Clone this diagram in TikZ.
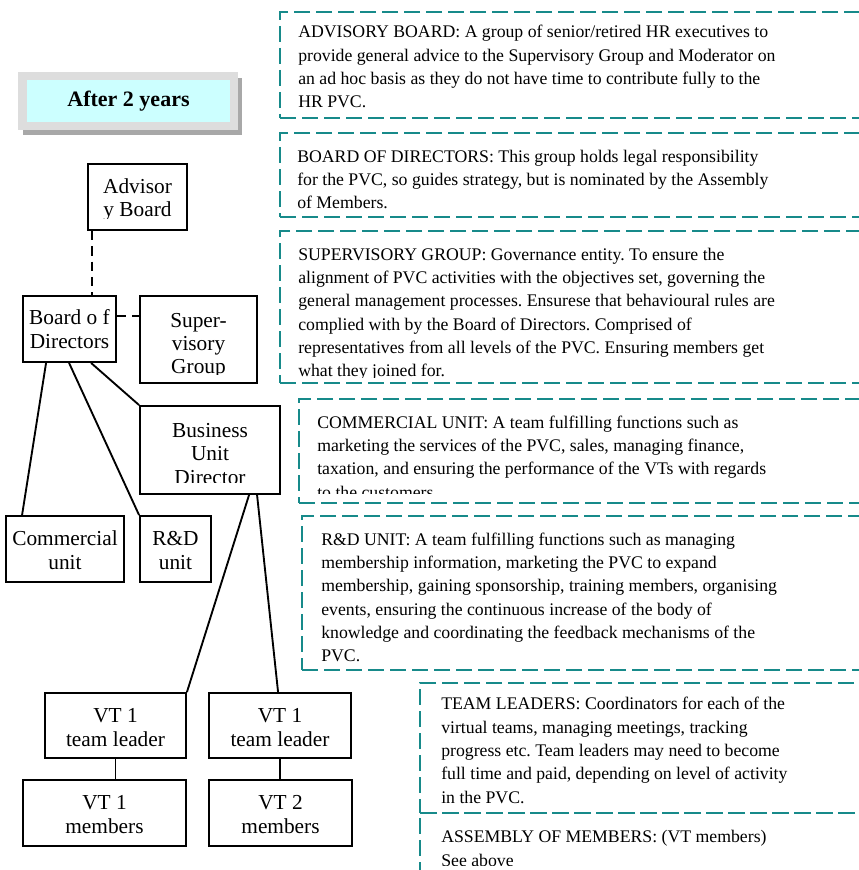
\documentclass[tikz,border=0pt]{standalone}
\usepackage{fontspec}
\setmainfont{Liberation Serif}
\usetikzlibrary{fit,calc}
\definecolor{noteteal}{HTML}{178A8A}
\definecolor{framegrey}{HTML}{DDDDDD}
\definecolor{shadegrey}{HTML}{A8A8A8}
\definecolor{titlecyan}{HTML}{CCFFFF}
\frenchspacing

\begin{document}
\begin{tikzpicture}[x=0.75pt, y=-0.75pt,
    unit/.style={draw=black, line width=1.4pt, inner sep=0pt},
    unittxt/.style={font=\fontsize{16}{17.5}\selectfont, align=center, inner sep=0pt, anchor=base},
    note/.style={draw=noteteal, line width=1.5pt, dash pattern=on 12pt off 4.5pt, inner sep=0pt},
    notetxt/.style={font=\fontsize{13.3}{17.5}\selectfont, align=left, inner sep=0pt, anchor=base west},
    link/.style={line width=1.4pt},
    dlink/.style={line width=1.4pt, dash pattern=on 7pt off 4.5pt}]
  \useasboundingbox (0,0) rectangle (859,870);

  % title panel
  \node[fit={(23,78) (242,135)}, fill=shadegrey, inner sep=0pt] (yearsshade) {};
  \node[fit={(18,72) (238,130)}, fill=framegrey, inner sep=0pt] (yearsframe) {};
  \node[fit={(27,80) (230,122)}, fill=titlecyan, inner sep=0pt] (years) {};
  \node[font=\bfseries\fontsize{16.5}{20}\selectfont, inner sep=0pt] (yearstxt) at (years) {After 2 years};

  % chart boxes (text anchored on last baseline)
  \node[unit, fit={(88,164) (187,230)}] (adv) {};
  \node[unit, fit={(23,296) (116,362)}] (bod) {};
  \node[unit, fit={(140,296) (257,383)}] (sup) {};
  \node[unit, fit={(140,406) (280,494)}] (bud) {};
  \node[unit, fit={(6,516) (124,582)}] (comm) {};
  \node[unit, fit={(140,516) (211,582)}] (rnd) {};
  \node[unit, fit={(45,693) (186,758)}] (tlone) {};
  \node[unit, fit={(209,693) (351,758)}] (tltwo) {};
  \node[unit, fit={(23,780) (186,846)}] (memone) {};
  \node[unit, fit={(209,780) (352,846)}] (memtwo) {};

  \begin{scope}
    \clip (88,164) rectangle (187,218);
    \node[unittxt] (advtxt) at (137.5,216.7) {Advisor\\y Board};
  \end{scope}
  \node[unittxt] (bodtxt) at (69.5,348.3) {Board o f\\Directors};
  \begin{scope}
    \clip (140,296) rectangle (257,374);
    \node[unittxt] (suptxt) at (198.5,373.7) {Super-\\visory\\Group};
  \end{scope}
  \begin{scope}
    \clip (140,406) rectangle (280,482);
    \node[unittxt] (budtxt) at (210,484) {Business\\Unit\\Director};
  \end{scope}
  \node[unittxt] (commtxt) at (65,569.3) {Commercial\\unit};
  \node[unittxt] (rndtxt) at (175.5,569.3) {R\&D\\unit};
  \node[unittxt] (tlonetxt) at (115.5,746.3) {VT 1\\team leader};
  \node[unittxt] (tltwotxt) at (280,746.3) {VT 1\\team leader};
  \node[unittxt] (memonetxt) at (104.5,833.3) {VT 1\\members};
  \node[unittxt] (memtwotxt) at (280.5,833.3) {VT 2\\members};

  % connectors
  \coordinate (advfoot) at ($(adv.south west)+(5,0)$);
  \draw[dlink] (advfoot) -- (advfoot |- bod.north);
  \coordinate (bodside) at ($(bod.north east)+(0,21)$);
  \draw[dlink] (bodside) -- (bodside -| sup.west);
  \draw[link] ($(bod.south west)+(24,0)$) -- ($(comm.north west)+(17,0)$);
  \draw[link] ($(bod.south west)+(47,0)$) -- (rnd.north west);
  \draw[link] ($(bod.south west)+(69,0)$) -- (bud.north west);
  \draw[link] ($(bud.south west)+(110,0)$) -- (tlone.north east);
  \draw[link] ($(bud.south west)+(118,0)$) -- ($(tltwo.north west)+(70,0)$);
  \draw[link] (tlone.south) -- (tlone.south |- memone.north);
  \draw[link] (tltwo.south) -- (tltwo.south |- memtwo.north);

  % notes
  \node[note, fit={(280,12) (880,118)}] (advnote) {};
  \node[note, fit={(280,133) (880,217)}] (bodnote) {};
  \node[note, fit={(280,231) (880,383)}] (supnote) {};
  \node[note, fit={(299,399) (880,503)}] (commnote) {};
  \node[note, fit={(302,516) (880,670)}] (rndnote) {};
  \node[note, fit={(420,683) (880,813)}] (tlnote) {};
  \node[note, fit={(420,813) (880,900)}] (memnote) {};

  \node[notetxt] (advnotetxt) at (298,108)
    {ADVISORY BOARD: A group of senior/retired HR executives to\\
     provide general advice to the Supervisory Group and Moderator on\\
     an ad hoc basis as they do not have time to contribute fully to the\\
     HR PVC.};
  \node[notetxt] (bodnotetxt) at (297,208.7)
    {BOARD OF DIRECTORS: This group holds legal responsibility\\
     for the PVC, so guides strategy, but is nominated by the Assembly\\
     of Members.};
  \begin{scope}
    \clip (280,231) rectangle (880,377);
    \node[notetxt] (supnotetxt) at (298,376.7)
      {SUPERVISORY GROUP: Governance entity. To ensure the\\
       alignment of PVC activities with the objectives set, governing the\\
       general management processes. Ensurese that behavioural rules are\\
       complied with by the Board of Directors. Comprised of\\
       representatives from all levels of the PVC. Ensuring members get\\
       what they joined for.};
  \end{scope}
  \begin{scope}
    \clip (299,399) rectangle (880,493);
    \node[notetxt] (commnotetxt) at (317,498)
      {COMMERCIAL UNIT: A team fulfilling functions such as\\
       marketing the services of the PVC, sales, managing finance,\\
       taxation, and ensuring the performance of the VTs with regards\\
       to the customers};
  \end{scope}
  \node[notetxt] (rndnotetxt) at (321,661.7)
    {R\&D UNIT: A team fulfilling functions such as managing\\
     membership information, marketing the PVC to expand\\
     membership, gaining sponsorship, training members, organising\\
     events, ensuring the continuous increase of the body of\\
     knowledge and coordinating the feedback mechanisms of the\\
     PVC.};
  \node[notetxt] (tlnotetxt) at (441,803.3)
    {TEAM LEADERS: Coordinators for each of the\\
     virtual teams, managing meetings, tracking\\
     progress etc. Team leaders may need to become\\
     full time and paid, depending on level of activity\\
     in the PVC.};
  \begin{scope}
    \clip (420,813) rectangle (880,865);
    \node[notetxt] (memnotetxt) at (441,866.3)
      {ASSEMBLY OF MEMBERS: (VT members)\\
       See above};
  \end{scope}
\end{tikzpicture}
\end{document}
